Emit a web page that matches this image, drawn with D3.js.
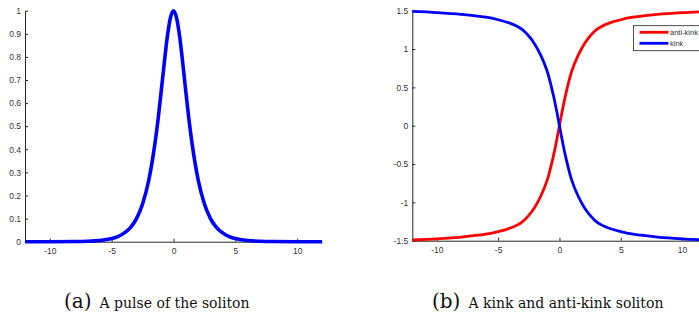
<!DOCTYPE html>
<html>
<head>
<meta charset="utf-8">
<script src="https://cdn.jsdelivr.net/npm/d3@7"></script>
<style>
  html, body { margin: 0; padding: 0; background: #fff; }
  svg { display: block; }
  .tick text { font-family: "Liberation Sans", Arial, sans-serif; font-size: 8.5px; fill: #333; }
  .caption { font-family: "DejaVu Serif", "Liberation Serif", serif; fill: #111; }
</style>
</head>
<body>
<div id="figure"></div>
<script>
// ---- data
// (a) pulse
var pulseX = [-12, -10, -8, -7, -6, -5, -4.5, -4, -3.5, -3, -2.5, -2, -1.75, -1.5, -1.25, -1, -0.75, -0.5, -0.25, 0,
              0.25, 0.5, 0.75, 1, 1.25, 1.5, 1.75, 2, 2.5, 3, 3.5, 4, 4.5, 5, 6, 7, 8, 10, 12];
var pulseY = [0, 0.0001, 0.0007, 0.0018, 0.005, 0.0135, 0.022, 0.037, 0.060, 0.099, 0.163, 0.266, 0.338, 0.425, 0.528, 0.648, 0.772, 0.887, 0.969, 1,
              0.969, 0.887, 0.772, 0.648, 0.528, 0.425, 0.338, 0.266, 0.163, 0.099, 0.060, 0.037, 0.022, 0.0135, 0.005, 0.0018, 0.0007, 0.0001, 0];

// (b) kink / anti-kink
var kinkX = [-12, -10, -8, -6, -5, -4, -3.5, -3, -2.5, -2, -1.5, -1, -0.5, -0.25, 0,
             0.25, 0.5, 1, 1.5, 2, 2.5, 3, 3.5, 4, 5, 6, 8, 10, 12];
var kinkY = [1.49, 1.475, 1.452, 1.415, 1.382, 1.335, 1.30, 1.25, 1.17, 1.06, 0.91, 0.71, 0.40, 0.21, 0,
             -0.21, -0.40, -0.71, -0.91, -1.06, -1.17, -1.25, -1.30, -1.335, -1.382, -1.415, -1.452, -1.475, -1.49];
var antiKinkY = [-1.49, -1.475, -1.452, -1.415, -1.382, -1.335, -1.30, -1.25, -1.17, -1.06, -0.91, -0.71, -0.40, -0.21, 0,
                 0.21, 0.40, 0.71, 0.91, 1.06, 1.17, 1.25, 1.30, 1.335, 1.382, 1.415, 1.452, 1.475, 1.49];
var legendNames = ["anti-kink", "kink"];

// tick values and labels
var xTicks = [-10, -5, 0, 5, 10];
var xTickLabels = ["-10", "-5", "0", "5", "10"];
var yTicksA = [0, 0.1, 0.2, 0.3, 0.4, 0.5, 0.6, 0.7, 0.8, 0.9, 1];
var yTickLabelsA = ["0", "0.1", "0.2", "0.3", "0.4", "0.5", "0.6", "0.7", "0.8", "0.9", "1"];
var yTicksB = [-1.5, -1, -0.5, 0, 0.5, 1, 1.5];
var yTickLabelsB = ["-1.5", "-1", "-0.5", "0", "0.5", "1", "1.5"];

var captions = [["(a)", "A pulse of the soliton"], ["(b)", "A kink and anti-kink soliton"]];

// ---- layout
var W = 699, H = 321;
var axisColor = "#262626";

var svg = d3.select("#figure")
  .append("svg")
    .attr("width", W)
    .attr("height", H);

function zip(xs, ys) {
  return xs.map(function(x, i) { return {x: x, y: ys[i]}; });
}

function drawAxes(g, xScale, yScale, yTicks, yLabels) {
  var xAxis = d3.axisBottom(xScale)
      .tickValues(xTicks)
      .tickFormat(function(d, i) { return xTickLabels[i]; })
      .tickSizeInner(-3)
      .tickSizeOuter(0)
      .tickPadding(6);
  var yAxis = d3.axisLeft(yScale)
      .tickValues(yTicks)
      .tickFormat(function(d, i) { return yLabels[i]; })
      .tickSizeInner(-3)
      .tickSizeOuter(0)
      .tickPadding(4);

  var gx = g.append("g")
      .attr("transform", "translate(0," + yScale.range()[0] + ")")
      .call(xAxis);
  var gy = g.append("g")
      .attr("transform", "translate(" + xScale.range()[0] + ",0)")
      .call(yAxis);

  [gx, gy].forEach(function(a) {
    a.select(".domain").attr("stroke", axisColor).attr("stroke-width", 1);
    a.selectAll(".tick line").attr("stroke", axisColor);
    a.attr("font-family", null).attr("font-size", null);
  });
}

// ---- panel (a)
var xA = d3.scaleLinear().domain([-12, 12]).range([25, 322]);
var yA = d3.scaleLinear().domain([0, 1]).range([241.7, 10.7]);
var gA = svg.append("g").attr("id", "panelA");
drawAxes(gA, xA, yA, yTicksA, yTickLabelsA);

var lineA = d3.line()
    .x(function(d) { return xA(d.x); })
    .y(function(d) { return yA(d.y); })
    .curve(d3.curveMonotoneX);

gA.append("path")
    .datum(zip(pulseX, pulseY))
    .attr("d", lineA)
    .attr("fill", "none")
    .attr("stroke", "#0000ff")
    .attr("stroke-width", 3.6);

// ---- panel (b)
var xB = d3.scaleLinear().domain([-12, 12]).range([412.3, 706.6]);
var yB = d3.scaleLinear().domain([-1.5, 1.5]).range([240.7, 10.7]);
var gB = svg.append("g").attr("id", "panelB");
drawAxes(gB, xB, yB, yTicksB, yTickLabelsB);

var lineB = d3.line()
    .x(function(d) { return xB(d.x); })
    .y(function(d) { return yB(d.y); })
    .curve(d3.curveCatmullRom.alpha(0.5));

var seriesB = [
  {name: legendNames[0], color: "#ff0000", values: zip(kinkX, antiKinkY)},
  {name: legendNames[1], color: "#0000ff", values: zip(kinkX, kinkY)}
];

gB.selectAll(".kink")
  .data(seriesB)
  .enter().append("path")
    .attr("class", "kink")
    .attr("d", function(d) { return lineB(d.values); })
    .attr("fill", "none")
    .attr("stroke", function(d) { return d.color; })
    .attr("stroke-width", 2.8);

// legend
var legend = gB.append("g").attr("transform", "translate(633.5,25.7)");
legend.append("rect")
    .attr("width", 75).attr("height", 25)
    .attr("fill", "#fff")
    .attr("stroke", axisColor).attr("stroke-width", 0.8);
var item = legend.selectAll(".item")
  .data(seriesB)
  .enter().append("g")
    .attr("transform", function(d, i) { return "translate(0," + (6.6 + i * 11) + ")"; });
item.append("line")
    .attr("x1", 6).attr("x2", 35)
    .attr("stroke", function(d) { return d.color; })
    .attr("stroke-width", 2.8);
item.append("text")
    .attr("x", 36.5).attr("dy", "0.35em")
    .attr("font-family", "Liberation Sans, Arial, sans-serif")
    .attr("font-size", 7.5)
    .attr("fill", "#333")
    .text(function(d) { return d.name; });

// captions
var capX = [64, 432];
captions.forEach(function(c, i) {
  var t = svg.append("text")
      .attr("class", "caption")
      .attr("x", capX[i]).attr("y", 308);
  t.append("tspan").attr("font-size", 20).attr("font-weight", 300).text(c[0]);
  t.append("tspan").attr("dx", 8).attr("font-size", 14).text(c[1]);
});
</script>
</body>
</html>
